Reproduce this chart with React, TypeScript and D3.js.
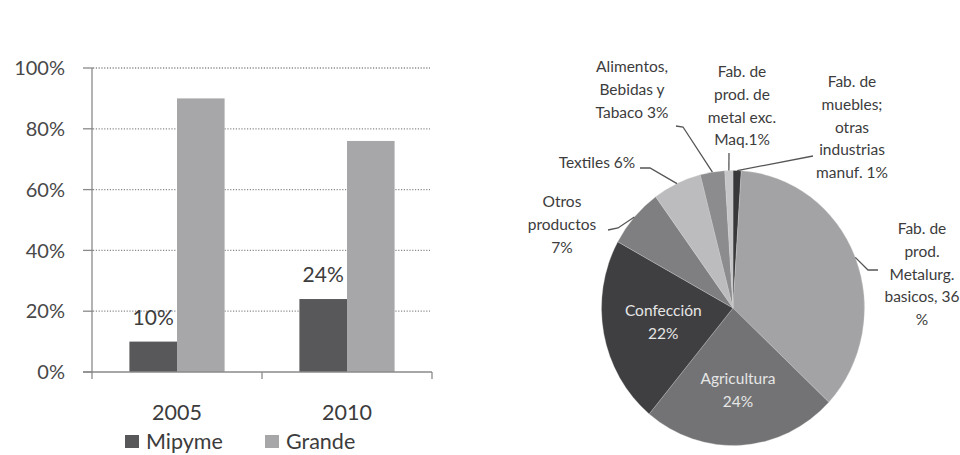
import React from "react";
import * as d3 from "d3";

const years = ["2005", "2010"];
const seriesNames = ["Mipyme", "Grande"];
const mipyme = [0.10, 0.24];
const grande = [0.90, 0.76];
const yTicks = [0, 0.2, 0.4, 0.6, 0.8, 1.0];
const barLabels = ["10%", "24%"];

const pieNames = [
  "Fab. de muebles; otras industrias manuf.",
  "Fab. de prod. Metalurg. basicos",
  "Agricultura",
  "Confección",
  "Otros productos",
  "Textiles",
  "Alimentos, Bebidas y Tabaco",
  "Fab. de prod. de metal exc. Maq.",
];
const pieValues = [1, 36, 24, 22, 7, 6, 3, 1];
const pieLabelLines = [
  ["Fab. de", "muebles;", "otras", "industrias", "manuf. 1%"],
  ["Fab. de", "prod.", "Metalurg.", "basicos, 36", "%"],
  ["Agricultura", "24%"],
  ["Confección", "22%"],
  ["Otros", "productos", "7%"],
  ["Textiles 6%"],
  ["Alimentos,", "Bebidas y", "Tabaco 3%"],
  ["Fab. de", "prod. de", "metal exc.", "Maq.1%"],
];

// styling / layout
const seriesColors = ["#58585a", "#a7a7a9"];
const pieColors = ["#38383a", "#a3a3a5", "#737375", "#3f3f41", "#7f7f81", "#bcbcbe", "#8c8c8e", "#c6c6c8"];
const FONT = "Lato, 'Open Sans', sans-serif";
const TEXT = "#3c3c3c";

type LabelLayout =
  | { inside: true; k: number }
  | { inside: false; tx: number; ty: number; path: [number, number][] };
const pieLayout: LabelLayout[] = [
  { inside: false, tx: 852, ty: 87, path: [[813, 156]] },
  { inside: false, tx: 922, ty: 234, path: [[868, 270], [878, 270]] },
  { inside: true, k: 0.6 },
  { inside: true, k: 0.54 },
  { inside: false, tx: 562, ty: 207, path: [[618, 228], [608, 230]] },
  { inside: false, tx: 597, ty: 168, path: [[650, 168], [640, 168]] },
  { inside: false, tx: 632, ty: 72, path: [[683, 127], [676, 126]] },
  { inside: false, tx: 742, ty: 77, path: [[729, 153]] },
];

export default function App() {
  const W = 960, H = 455;
  const x0 = d3.scaleBand<string>().domain(years).range([92, 432]).paddingInner(0.44).paddingOuter(0.22);
  const x1 = d3.scaleBand<string>().domain(seriesNames).range([0, x0.bandwidth()]);
  const y = d3.scaleLinear().domain([0, 1]).range([372, 68]);
  const fmt = d3.format(".0%");
  const values = [mipyme, grande];

  const cx = 733, cy = 308, rx = 131.5, ry = 137.5;
  const sy = ry / rx;
  const pie = d3.pie<number>().sort(null).startAngle(0).endAngle(2 * Math.PI)(pieValues);
  const arc = d3.arc<d3.PieArcDatum<number>>().innerRadius(0).outerRadius(rx);
  const edge = (a: number, k = 1) => [cx + Math.sin(a) * rx * k, cy - Math.cos(a) * ry * k];
  const lineH = 22.8;

  return (
    <svg width={W} height={H} style={{ position: "absolute", left: 0, top: 0, background: "#fff" }}>
      <rect x={0} y={0} width={W} height={H} fill="#fff" />
      {yTicks.map((t) => (
        <g key={t}>
          {t > 0 && (
            <line x1={93} x2={430} y1={y(t)} y2={y(t)} stroke="#8a8a8a" strokeWidth={1.3} strokeDasharray="1.2,1.6" />
          )}
          <line x1={83} x2={93} y1={y(t)} y2={y(t)} stroke="#8a8a8a" strokeWidth={1.3} />
          <text x={65} y={y(t)} dy="0.36em" textAnchor="end" fontFamily={FONT} fontSize={20} fill="#484848">
            {fmt(t)}
          </text>
        </g>
      ))}
      {years.map((yr, i) => (
        <g key={yr} transform={`translate(${x0(yr)},0)`}>
          {seriesNames.map((s, j) => (
            <rect key={s} x={x1(s)} y={y(values[j][i])} width={x1.bandwidth()} height={y(0) - y(values[j][i])} fill={seriesColors[j]} />
          ))}
          <text x={(x1("Mipyme") as number) + x1.bandwidth() / 2} y={y(mipyme[i]) - 17} textAnchor="middle" fontFamily={FONT} fontSize={21} fill={TEXT}>
            {barLabels[i]}
          </text>
        </g>
      ))}
      <line x1={92} x2={92} y1={y(1)} y2={y(0)} stroke="#8a8a8a" strokeWidth={1.3} />
      <line x1={83} x2={432} y1={y(0)} y2={y(0)} stroke="#8a8a8a" strokeWidth={1.3} />
      {[92, 262, 432].map((tx) => (
        <line key={tx} x1={tx} x2={tx} y1={y(0)} y2={y(0) + 7} stroke="#8a8a8a" strokeWidth={1.3} />
      ))}
      {years.map((yr) => (
        <text key={yr} x={(x0(yr) as number) + x0.bandwidth() / 2} y={420} textAnchor="middle" fontFamily={FONT} fontSize={21.5} fill={TEXT}>
          {yr}
        </text>
      ))}
      {seriesNames.map((s, j) => (
        <g key={s} transform={`translate(${[125, 265][j]},435)`}>
          <rect x={0} y={0} width={14} height={13} fill={seriesColors[j]} />
          <text x={21} y={14} fontFamily={FONT} fontSize={21.5} fill={TEXT}>
            {s}
          </text>
        </g>
      ))}

      <g transform={`translate(${cx},${cy}) scale(1,${sy})`}>
        {pie.map((d, i) => (
          <path key={pieNames[i]} d={arc(d) as string} fill={pieColors[i]} stroke="#d8d8d8" strokeWidth={0.3} />
        ))}
      </g>
      {pie.map((d, i) => {
        const L = pieLayout[i];
        const lines = pieLabelLines[i];
        const mid = (d.startAngle + d.endAngle) / 2;
        if (L.inside) {
          const [px, py] = edge(mid, L.k);
          return (
            <text key={i} x={px} y={py - ((lines.length - 1) * lineH) / 2} textAnchor="middle" fontFamily={FONT} fontSize={15.5} fill="#e6e6e6">
              {lines.map((ln, k) => (
                <tspan key={k} x={px} dy={k === 0 ? "0.35em" : lineH}>
                  {ln}
                </tspan>
              ))}
            </text>
          );
        }
        const start = edge(mid, 1.0);
        const pts = [start, ...L.path];
        return (
          <g key={i}>
            <polyline points={pts.map((p) => p.join(",")).join(" ")} fill="none" stroke="#555" strokeWidth={1.3} />
            <text x={L.tx} y={L.ty} textAnchor="middle" fontFamily={FONT} fontSize={15.5} fill={TEXT}>
              {lines.map((ln, k) => (
                <tspan key={k} x={L.tx} dy={k === 0 ? 0 : lineH}>
                  {ln}
                </tspan>
              ))}
            </text>
          </g>
        );
      })}
    </svg>
  );
}
